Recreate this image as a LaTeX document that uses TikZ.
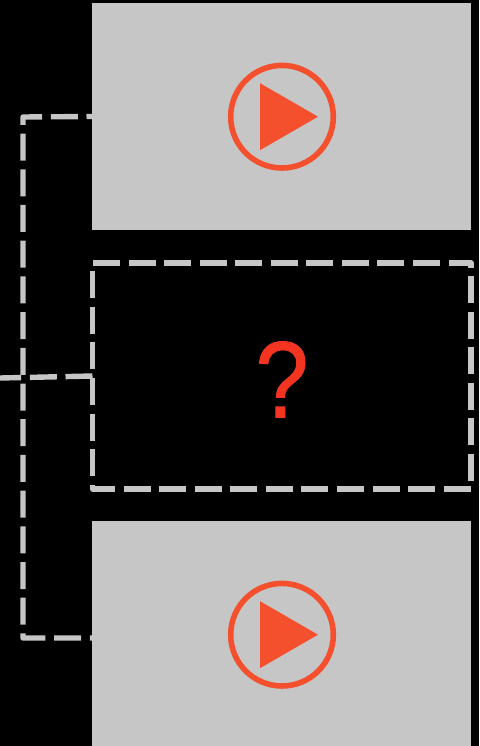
\documentclass[tikz,border=0pt]{standalone}
\usepackage{fontspec}
\setmainfont{Liberation Sans}
\newfontfamily\askfont[FakeBold=0.8]{Liberation Sans}
\usetikzlibrary{calc}
\definecolor{clipgray}{RGB}{198,198,198}
\definecolor{playred}{RGB}{245,80,46}
\definecolor{askred}{RGB}{243,52,33}
\tikzset{
	clipbox/.style={fill=clipgray, minimum width=379pt, minimum height=227pt, inner sep=0pt, outer sep=0pt},
	midbox/.style={minimum width=378.5pt, minimum height=226pt, inner sep=0pt, outer sep=0pt},
	playring/.style={circle, draw=playred, line width=5.6pt, minimum size=102.6pt, inner sep=0pt, outer sep=0pt},
	dashline/.style={draw=clipgray, line width=5.4pt, dash pattern=on 27pt off 8.7pt, line join=round}
}

\begin{document}
\begin{tikzpicture}[x=1pt, y=-1pt]
	\useasboundingbox (0,0) rectangle (479,746);
	\fill[black] (0,0) rectangle (479,746);
	
	\node[midbox] (mid) at (281.75, 376) {};
	\node[clipbox] (topclip) at (281.5, 116.5) {};
	\node[clipbox] (botclip) at (281.5, 634.5) {};
	
	\coordinate (topcorner) at (23, 117);
	\coordinate (botcorner) at (23, 638);
	\coordinate (botlink) at (92, 638);
	\coordinate (midstart) at (92.5, 378);
	\coordinate (freeend) at (0, 378);
	
	\draw[dashline, dash phase=21.5pt] (topclip.west) -- (topcorner) -- (botcorner) -- (botlink);
	\draw[dashline] (mid.west) -- (freeend);
	\draw[dashline, dash pattern=on 27pt off 8.55pt] (midstart) -- (mid.south west) -- (mid.south east) -- (mid.north east) -- (mid.north west) -- (midstart);
	
	\node[playring] (topring) at (282, 116.7) {};
	\node[playring] (botring) at (282, 634.7) {};
	\foreach \ring in {topring,botring} {
		\fill[playred] (\ring.center) ++(-22,-33.5) -- ++(58,33.5) -- ++(-58,33.5) -- cycle;
	}
	
	\node[text=askred, font=\fontsize{109}{109}\askfont, inner sep=0pt, xscale=0.88] (ask) at (282, 379.5) {?};
\end{tikzpicture}
\end{document}
